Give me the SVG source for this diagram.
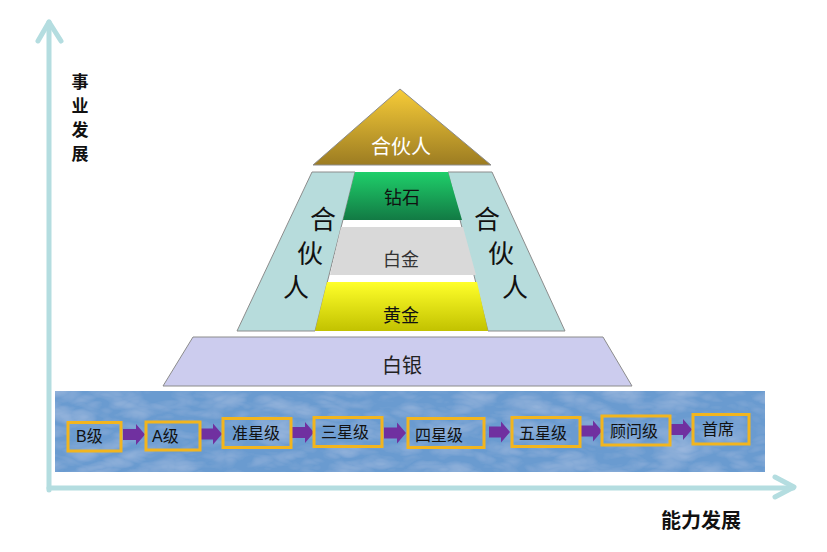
<svg xmlns="http://www.w3.org/2000/svg" width="827" height="552" viewBox="0 0 827 552">
<defs>
<linearGradient id="gTop" x1="0" y1="0" x2="0" y2="1"><stop offset="0" stop-color="#f7cc38"/><stop offset="1" stop-color="#9c7c22"/></linearGradient>
<linearGradient id="gGreen" x1="0" y1="0" x2="0" y2="1"><stop offset="0" stop-color="#1fcf6a"/><stop offset="1" stop-color="#127a44"/></linearGradient>
<linearGradient id="gYellow" x1="0" y1="0" x2="0" y2="1"><stop offset="0" stop-color="#ffff2a"/><stop offset="1" stop-color="#c2c200"/></linearGradient>
<filter id="marble" x="0" y="0" width="1" height="1">
<feTurbulence type="turbulence" baseFrequency="0.02 0.05" numOctaves="3" seed="5" result="n"/>
<feColorMatrix in="n" type="matrix" values="0 0 0 0 0.85  0 0 0 0 0.9  0 0 0 0 1  0 0 0 0.35 -0.05" result="w"/>
<feComposite in="w" in2="SourceGraphic" operator="in" result="wc"/>
<feMerge><feMergeNode in="SourceGraphic"/><feMergeNode in="wc"/></feMerge>
</filter>
</defs>
<style>
.axis{stroke:#b4dde0;stroke-width:5;fill:none;stroke-linecap:round;stroke-linejoin:round}
.tier{stroke:#8c8c8c;stroke-width:1}
.lbl{font-family:"Noto Sans CJK SC","Liberation Sans",sans-serif;text-anchor:middle}
.ax{font-family:"Noto Sans CJK SC",sans-serif;font-weight:bold;fill:#111}
.box rect{fill:none;stroke:#f2b51e;stroke-width:3}
.box text{font-family:"Liberation Sans","Noto Sans CJK SC",sans-serif;font-size:16px;fill:#111}
.arr{fill:#7030a0}
</style>
<rect width="827" height="552" fill="#ffffff"/>

<g id="axes" class="axis">
<path d="M49,490 L49,22"/>
<path d="M38,41 L49,22 L61,41"/>
<path d="M49,488 L793,488"/>
<path d="M775,477 L794,487 L775,497"/>
</g>
<g id="axis-y-label" class="ax" text-anchor="middle" font-size="17">
<text x="80" y="88">事</text>
<text x="80" y="112">业</text>
<text x="80" y="136">发</text>
<text x="80" y="160">展</text>
</g>
<g id="axis-x-label"><text class="ax" x="661" y="528" font-size="20">能力发展</text></g>

<g id="partner-top">
<polygon class="tier" points="400,89 491,165 313,165" fill="url(#gTop)"/>
<text class="lbl" x="401" y="154" font-size="20" fill="#ffffff">合伙人</text>
</g>
<g id="partner-left">
<polygon class="tier" points="312,172 355,172 315,331 237,331" fill="#b7dcdc"/>
<text class="lbl" x="323" y="229" font-size="26" fill="#111">合</text>
<text class="lbl" x="310" y="263" font-size="26" fill="#111">伙</text>
<text class="lbl" x="296" y="297" font-size="26" fill="#111">人</text>
</g>
<g id="partner-right">
<polygon class="tier" points="448,172 492,172 565,331 488,331" fill="#b7dcdc"/>
<text class="lbl" x="487" y="229" font-size="26" fill="#111">合</text>
<text class="lbl" x="501" y="263" font-size="26" fill="#111">伙</text>
<text class="lbl" x="515" y="297" font-size="26" fill="#111">人</text>
</g>
<g id="diamond">
<polygon points="355,172 448,172 462,220 343,220" fill="url(#gGreen)"/>
<text class="lbl" x="402" y="204" font-size="18" fill="#111">钻石</text>
</g>
<g id="platinum">
<polygon points="341,227 463,227 476,275 330,275" fill="#d9d9d9"/>
<text class="lbl" x="401" y="266" font-size="18" fill="#333">白金</text>
</g>
<g id="gold">
<polygon points="327,282 477,282 488,331 315,331" fill="url(#gYellow)"/>
<text class="lbl" x="401" y="322" font-size="18" fill="#111">黄金</text>
</g>
<g id="silver">
<polygon class="tier" points="193,337 603,337 632,386 163,386" fill="#ccccee"/>
<text class="lbl" x="402" y="373" font-size="20" fill="#222">白银</text>
</g>

<g id="band">
<rect x="55" y="391" width="710" height="81" fill="#6a9bd0" filter="url(#marble)"/>
</g>

<g id="connectors">
<path class="arr" d="M123,429 L136,429 L136,424 L145,434.5 L136,445 L136,440 L123,440 Z"/>
<path class="arr" d="M201,428.5 L213,428.5 L213,423.5 L222,434 L213,444.5 L213,439.5 L201,439.5 Z"/>
<path class="arr" d="M292,427 L305,427 L305,422 L314,432.5 L305,443 L305,438 L292,438 Z"/>
<path class="arr" d="M384,427.5 L397,427.5 L397,422.5 L406,433 L397,443.5 L397,438.5 L384,438.5 Z"/>
<path class="arr" d="M489,426.5 L501,426.5 L501,421.5 L510,432 L501,442.5 L501,437.5 L489,437.5 Z"/>
<path class="arr" d="M581,425.5 L593,425.5 L593,420.5 L602,431 L593,441.5 L593,436.5 L581,436.5 Z"/>
<path class="arr" d="M671,424 L683,424 L683,419 L692,429.5 L683,440 L683,435 L671,435 Z"/>
</g>

<g id="n-b" class="box"><rect x="68" y="422.5" width="53" height="28.5"/><text x="76" y="442">B级</text></g>
<g id="n-a" class="box"><rect x="146" y="422" width="54" height="28"/><text x="152" y="442">A级</text></g>
<g id="n-zhun" class="box"><rect x="223" y="418.5" width="68" height="29"/><text x="232" y="439">准星级</text></g>
<g id="n-san" class="box"><rect x="314" y="417.5" width="68" height="29"/><text x="321" y="438">三星级</text></g>
<g id="n-si" class="box"><rect x="408" y="418.5" width="76" height="29"/><text x="415" y="441">四星级</text></g>
<g id="n-wu" class="box"><rect x="512" y="417.5" width="68" height="29"/><text x="519" y="439">五星级</text></g>
<g id="n-gu" class="box"><rect x="602" y="416" width="68" height="29"/><text x="610" y="437">顾问级</text></g>
<g id="n-shou" class="box"><rect x="693" y="414.5" width="56" height="29.5"/><text x="702" y="435">首席</text></g>
</svg>
